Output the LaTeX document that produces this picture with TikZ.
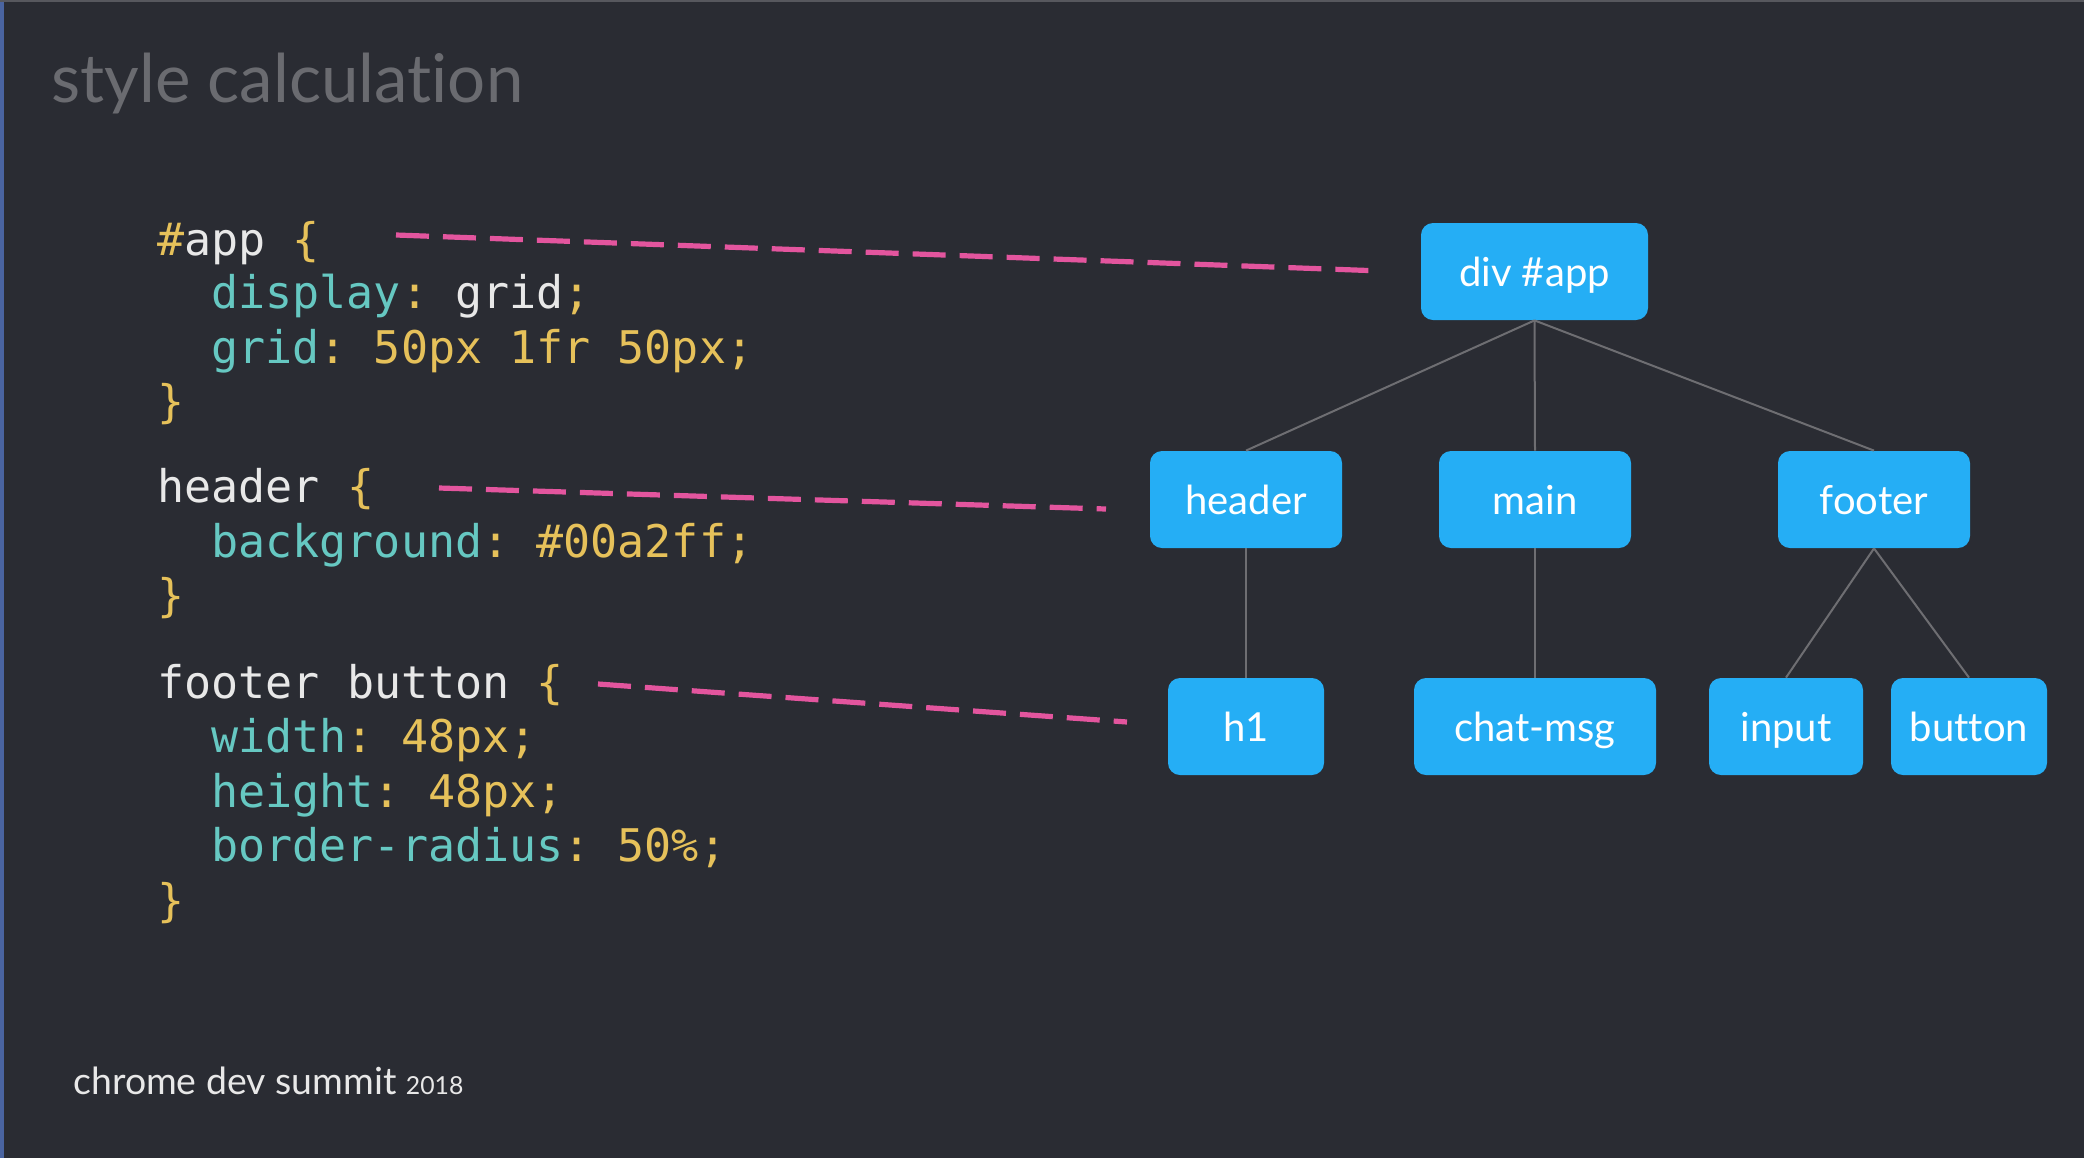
\documentclass[tikz,border=0pt]{standalone}
\usepackage{fontspec}
\setmainfont{Lato}[Ligatures={NoCommon}]
\setmonofont{DejaVu Sans Mono}
\definecolor{bgc}{HTML}{2A2C33}
\definecolor{codew}{HTML}{E8E8E8}
\definecolor{codey}{HTML}{E6C15A}
\definecolor{codet}{HTML}{66C8C2}
\definecolor{pinkc}{HTML}{E3559E}
\definecolor{boxc}{HTML}{25AEF5}
\definecolor{linec}{HTML}{6E6E72}
\definecolor{titlec}{HTML}{6A6B70}
\definecolor{stripc}{HTML}{4A64A0}
\newcommand\cwh[1]{\textcolor{codew}{#1}}
\newcommand\cyl[1]{\textcolor{codey}{#1}}
\newcommand\ctl[1]{\textcolor{codet}{#1}}
\tikzset{
  codeline/.style={anchor=base west, inner sep=0pt, font=\ttfamily\fontsize{22.5pt}{27pt}\selectfont},
  treebox/.style={fill=boxc, rounded corners=6pt, minimum height=48.5pt, inner sep=0pt, text=white, text height=19pt, text depth=3.6pt, font=\fontsize{20pt}{24pt}\selectfont},
  treeline/.style={draw=linec, line width=1pt},
  pinkdash/.style={draw=pinkc, line width=2.6pt, dash pattern=on 16.5pt off 7pt}
}
\begin{document}
\begin{tikzpicture}[x=0.5pt,y=-0.5pt]
\useasboundingbox (0,0) rectangle (2084,1158);
\fill[bgc] (0,0) rectangle (2084,1158);
\fill[stripc] (0,0) rectangle (4,1158);
\fill[titlec!70!bgc] (0,0) rectangle (2084,2);

% title
\node[anchor=base west, inner sep=0pt, text=titlec, font=\fontsize{33.6pt}{40pt}\selectfont] (title) at (51,102) {style calculat\kern0pt ion};

% code
\node[codeline] (c1) at (157,255) {\cyl{\#}\cwh{app} \cyl{\{}};
\node[codeline] (c2) at (211,308) {\ctl{display}\cyl{:} \cwh{grid}\cyl{;}};
\node[codeline] (c3) at (211,363) {\ctl{grid}\cyl{: 50px 1fr 50px;}};
\node[codeline] (c4) at (157,417) {\cyl{\}}};
\node[codeline] (c5) at (157,502) {\cwh{header} \cyl{\{}};
\node[codeline] (c6) at (211,557) {\ctl{background}\cyl{: \#00a2ff;}};
\node[codeline] (c7) at (157,611) {\cyl{\}}};
\node[codeline] (c8) at (157,698) {\cwh{footer button} \cyl{\{}};
\node[codeline] (c9) at (211,752) {\ctl{width}\cyl{: 48px;}};
\node[codeline] (c10) at (211,807) {\ctl{height}\cyl{: 48px;}};
\node[codeline] (c11) at (211,861) {\ctl{border-radius}\cyl{: 50\%;}};
\node[codeline] (c12) at (157,916) {\cyl{\}}};

% tree
\node[treebox, minimum width=113.5pt] (app) at (1534.5,271.5) {div \#app};
\node[treebox, minimum width=96pt] (header) at (1246,499.5) {header};
\node[treebox, minimum width=96pt] (main) at (1535,499.5) {main};
\node[treebox, minimum width=96pt] (footer) at (1874,499.5) {footer};
\node[treebox, minimum width=78pt] (h1) at (1246,726.5) {h1};
\node[treebox, minimum width=121pt] (chat) at (1535,726.5) {chat-msg};
\node[treebox, minimum width=77pt] (input) at (1786,726.5) {input};
\node[treebox, minimum width=78pt] (button) at (1969,726.5) {button};

\draw[treeline] (app.south) -- (header.north);
\draw[treeline] (app.south) -- (main.north);
\draw[treeline] (app.south) -- (footer.north);
\draw[treeline] (header.south) -- (h1.north);
\draw[treeline] (main.south) -- (chat.north);
\draw[treeline] (footer.south) -- (input.north);
\draw[treeline] (footer.south) -- (button.north);

% dashed links
\coordinate (p1s) at (396,235);
\coordinate (p1e) at (1382,271);
\coordinate (p2s) at (439,488);
\coordinate (p2e) at (1106,509);
\coordinate (p3s) at (598,684);
\coordinate (p3e) at (1127,722);
\draw[pinkdash] (p1s) -- (p1e);
\draw[pinkdash] (p2s) -- (p2e);
\draw[pinkdash] (p3s) -- (p3e);

% footer
\node[anchor=base west, inner sep=0pt, text=codew, font=\fontsize{18.7pt}{22pt}\selectfont] (brand) at (73,1094) {chrome dev summit {\fontsize{12.4pt}{15pt}\selectfont 2018}};
\end{tikzpicture}
\end{document}
